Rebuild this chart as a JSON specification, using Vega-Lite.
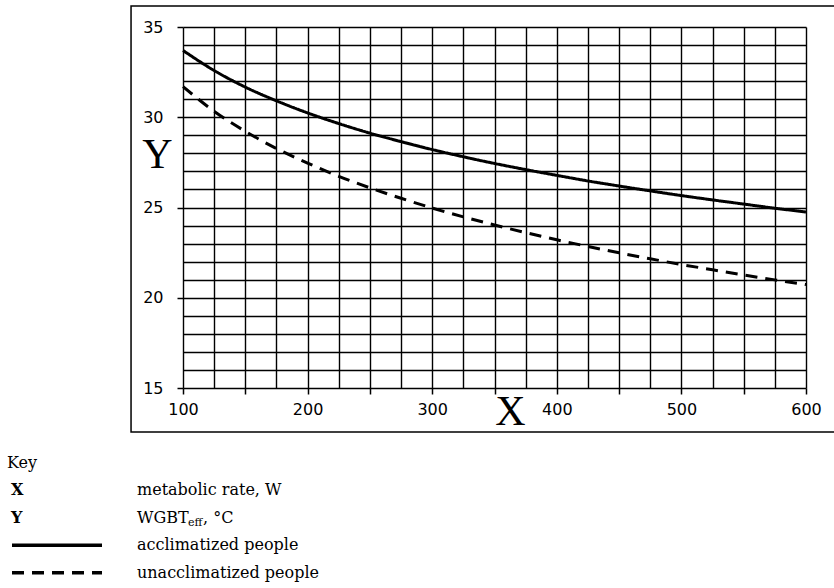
{
  "$schema": "https://vega.github.io/schema/vega-lite/v6.json",
  "autosize": {"type": "pad"},
  "padding": {"left": 7, "top": 5, "right": 0, "bottom": 0},
  "background": "white",
  "config": {"view": {"stroke": null}},
  "bounds": "flush",
  "spacing": 61,
  "datasets": {
    "curves": [
      {"M": 100, "WBGT": 33.70, "group": "acclimatized"},
      {"M": 125, "WBGT": 32.59, "group": "acclimatized"},
      {"M": 150, "WBGT": 31.67, "group": "acclimatized"},
      {"M": 175, "WBGT": 30.91, "group": "acclimatized"},
      {"M": 200, "WBGT": 30.24, "group": "acclimatized"},
      {"M": 225, "WBGT": 29.65, "group": "acclimatized"},
      {"M": 250, "WBGT": 29.12, "group": "acclimatized"},
      {"M": 275, "WBGT": 28.65, "group": "acclimatized"},
      {"M": 300, "WBGT": 28.21, "group": "acclimatized"},
      {"M": 325, "WBGT": 27.81, "group": "acclimatized"},
      {"M": 350, "WBGT": 27.44, "group": "acclimatized"},
      {"M": 375, "WBGT": 27.10, "group": "acclimatized"},
      {"M": 400, "WBGT": 26.78, "group": "acclimatized"},
      {"M": 425, "WBGT": 26.47, "group": "acclimatized"},
      {"M": 450, "WBGT": 26.19, "group": "acclimatized"},
      {"M": 475, "WBGT": 25.92, "group": "acclimatized"},
      {"M": 500, "WBGT": 25.66, "group": "acclimatized"},
      {"M": 525, "WBGT": 25.42, "group": "acclimatized"},
      {"M": 550, "WBGT": 25.19, "group": "acclimatized"},
      {"M": 575, "WBGT": 24.96, "group": "acclimatized"},
      {"M": 600, "WBGT": 24.75, "group": "acclimatized"},
      {"M": 100, "WBGT": 31.70, "group": "unacclimatized"},
      {"M": 125, "WBGT": 30.33, "group": "unacclimatized"},
      {"M": 150, "WBGT": 29.22, "group": "unacclimatized"},
      {"M": 175, "WBGT": 28.27, "group": "unacclimatized"},
      {"M": 200, "WBGT": 27.46, "group": "unacclimatized"},
      {"M": 225, "WBGT": 26.73, "group": "unacclimatized"},
      {"M": 250, "WBGT": 26.09, "group": "unacclimatized"},
      {"M": 275, "WBGT": 25.51, "group": "unacclimatized"},
      {"M": 300, "WBGT": 24.97, "group": "unacclimatized"},
      {"M": 325, "WBGT": 24.48, "group": "unacclimatized"},
      {"M": 350, "WBGT": 24.03, "group": "unacclimatized"},
      {"M": 375, "WBGT": 23.61, "group": "unacclimatized"},
      {"M": 400, "WBGT": 23.21, "group": "unacclimatized"},
      {"M": 425, "WBGT": 22.84, "group": "unacclimatized"},
      {"M": 450, "WBGT": 22.49, "group": "unacclimatized"},
      {"M": 475, "WBGT": 22.16, "group": "unacclimatized"},
      {"M": 500, "WBGT": 21.84, "group": "unacclimatized"},
      {"M": 525, "WBGT": 21.55, "group": "unacclimatized"},
      {"M": 550, "WBGT": 21.26, "group": "unacclimatized"},
      {"M": 575, "WBGT": 20.99, "group": "unacclimatized"},
      {"M": 600, "WBGT": 20.73, "group": "unacclimatized"}
    ],
    "key": [
      {"sym": "Key", "desc": ""},
      {"sym": "X", "desc": "metabolic rate, W"},
      {"sym": "Y", "desc": "WGBT", "sub": "eff", "rest": ", °C"},
      {"sym": "", "desc": "acclimatized people", "line": "acclimatized"},
      {"sym": "", "desc": "unacclimatized people", "line": "unacclimatized"}
    ]
  },
  "vconcat": [
    {
      "width": 623,
      "height": 361,
      "layer": [
        {
          "data": {"name": "curves"},
          "mark": {"type": "line", "strokeWidth": 3, "color": "black", "interpolate": "monotone"},
          "encoding": {
            "x": {
              "field": "M", "type": "quantitative",
              "scale": {"domain": [100, 600], "nice": false, "zero": false},
              "axis": {
                "title": "X",
                "values": [100, 125, 150, 175, 200, 225, 250, 275, 300, 325, 350, 375, 400, 425, 450, 475, 500, 525, 550, 575, 600],
                "tickCount": 100, "format": "d",
                "grid": true, "gridColor": "black", "gridWidth": 1.4, "gridOpacity": 1,
                "domain": false,
                "ticks": true, "tickSize": 6, "tickColor": "black", "tickWidth": 1.5,
                "tickOpacity": {"condition": {"test": "datum.value % 50 == 0", "value": 1}, "value": 0},
                "labelExpr": "datum.value % 100 == 0 ? datum.label : ''",
                "labelFont": "DejaVu Sans", "labelFontSize": 16, "labelColor": "black",
                "labelPadding": 7, "labelFlush": false, "labelOverlap": false,
                "titleFont": "Liberation Serif", "titleFontSize": 42, "titleFontWeight": "normal",
                "titleColor": "black", "titleX": 327, "titleY": 23, "titleBaseline": "middle", "titleAlign": "center"
              }
            },
            "y": {
              "field": "WBGT", "type": "quantitative",
              "scale": {"domain": [15, 35], "nice": false, "zero": false},
              "axis": {
                "title": "Y",
                "values": [15, 16, 17, 18, 19, 20, 21, 22, 23, 24, 25, 26, 27, 28, 29, 30, 31, 32, 33, 34, 35],
                "tickCount": 100, "format": "d",
                "grid": true, "gridColor": "black", "gridWidth": 1.4, "gridOpacity": 1,
                "domain": false,
                "ticks": true, "tickSize": 6, "tickColor": "black", "tickWidth": 1.5,
                "tickOpacity": {"condition": {"test": "datum.value % 5 == 0", "value": 1}, "value": 0},
                "labelExpr": "datum.value % 5 == 0 ? datum.label : ''",
                "labelFont": "DejaVu Sans", "labelFontSize": 16, "labelColor": "black",
                "labelPadding": 14, "labelFlush": false, "labelOverlap": false,
                "titleFont": "Liberation Serif", "titleFontSize": 42, "titleFontWeight": "normal",
                "titleColor": "black", "titleAngle": 0, "titleX": -26, "titleY": 127,
                "titleBaseline": "middle", "titleAlign": "center"
              }
            },
            "strokeDash": {
              "field": "group", "type": "nominal",
              "scale": {"domain": ["acclimatized", "unacclimatized"], "range": [[1, 0], [12, 8]]},
              "legend": null
            }
          }
        },
        {
          "data": {"values": [{}]},
          "mark": {"type": "rect", "filled": false, "stroke": "black", "strokeWidth": 1.5},
          "encoding": {
            "x": {"datum": 58.3, "type": "quantitative"},
            "x2": {"datum": 632},
            "y": {"datum": 36.16, "type": "quantitative"},
            "y2": {"datum": 12.56}
          }
        }
      ]
    },
    {
      "width": 100,
      "height": 137.5,
      "data": {"name": "key"},
      "encoding": {
        "y": {"field": "desc", "type": "nominal", "sort": null, "axis": null}
      },
      "layer": [
        {
          "transform": [{"filter": "datum.sym == 'Key'"}],
          "mark": {"type": "text", "align": "left", "baseline": "middle", "font": "DejaVu Serif", "fontSize": 16, "color": "black"},
          "encoding": {
            "x": {"datum": 0, "type": "quantitative", "scale": {"domain": [0, 1], "range": [-176, -46], "nice": false, "zero": false}, "axis": null},
            "text": {"field": "sym"}
          }
        },
        {
          "transform": [{"filter": "datum.sym != 'Key'"}],
          "mark": {"type": "text", "align": "left", "baseline": "middle", "font": "DejaVu Serif", "fontSize": 16, "fontWeight": "bold", "dx": 4, "color": "black"},
          "encoding": {
            "x": {"datum": 0, "type": "quantitative"},
            "text": {"field": "sym"}
          }
        },
        {
          "mark": {"type": "text", "align": "left", "baseline": "middle", "font": "DejaVu Serif", "fontSize": 16, "color": "black"},
          "encoding": {
            "x": {"datum": 1, "type": "quantitative"},
            "text": {"field": "desc"}
          }
        },
        {
          "transform": [{"filter": "isValid(datum.sub)"}],
          "mark": {"type": "text", "align": "left", "baseline": "middle", "font": "DejaVu Serif", "fontSize": 11, "dx": 51, "dy": 5, "color": "black"},
          "encoding": {
            "x": {"datum": 1, "type": "quantitative"},
            "text": {"field": "sub"}
          }
        },
        {
          "transform": [{"filter": "isValid(datum.sub)"}],
          "mark": {"type": "text", "align": "left", "baseline": "middle", "font": "DejaVu Serif", "fontSize": 16, "dx": 66, "color": "black"},
          "encoding": {
            "x": {"datum": 1, "type": "quantitative"},
            "text": {"field": "rest"}
          }
        },
        {
          "transform": [{"filter": "isValid(datum.line)"}],
          "mark": {"type": "rule", "strokeWidth": 3.5, "color": "black", "xOffset": 5, "x2Offset": -35},
          "encoding": {
            "x": {"datum": 0, "type": "quantitative"},
            "x2": {"datum": 1},
            "strokeDash": {
              "field": "line", "type": "nominal",
              "scale": {"domain": ["acclimatized", "unacclimatized"], "range": [[1, 0], [12, 8]]},
              "legend": null
            }
          }
        }
      ]
    }
  ]
}
